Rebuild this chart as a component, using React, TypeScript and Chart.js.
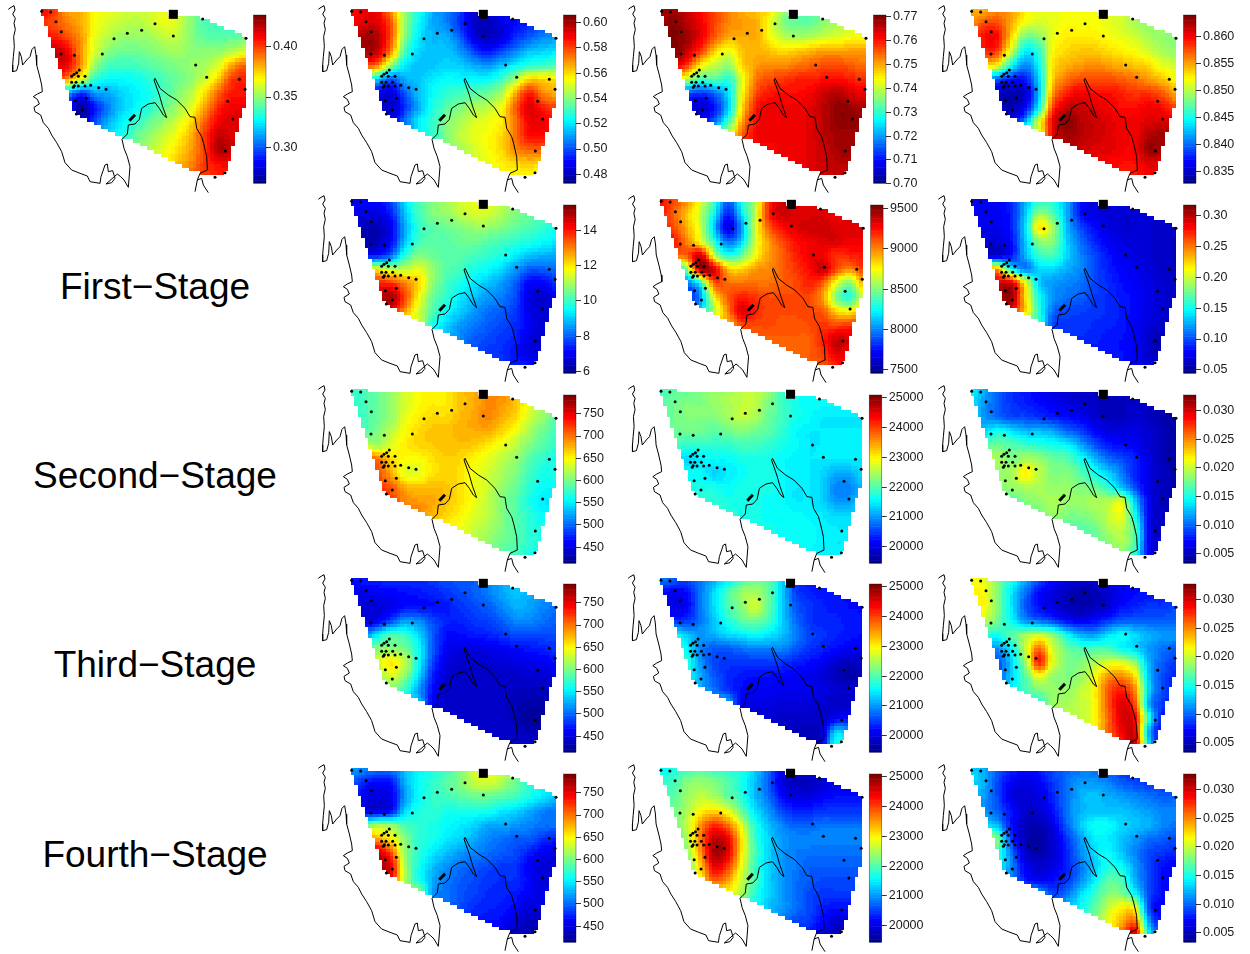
import React, { useEffect, useRef } from "react";
import { Chart, registerables } from "chart.js";

Chart.register(...registerables);

// Map units: 3 units = 1 screen pixel inside a panel.
const gridX = [120, 161, 203, 244, 285, 327, 368, 409, 451, 492, 533, 575, 616, 657, 699, 740];
const gridY = [30, 72, 113, 155, 197, 238, 280, 322, 363, 405, 447, 488, 530];

const coastX = [25, 30, 42, 45, 38, 46, 42, 46, 41, 43, 40, 38, 38, 50, 56, 58, 64, 68, 80, 90, 96, 104, 108, 110, 118, 125, 127, 112, 100, 112, 118, 102, 105, 122, 130, 145, 155, 170, 185, 195, 215, 240, 262, 270, 300, 303, 315, 322, 325, 338, 345, 335, 318, 352, 362, 372, 385, 390, 382, 372, 366, 382, 385, 405, 418, 425, 445, 465, 478, 490, 500, 488, 478, 462, 465, 480, 505, 530, 555, 570, 585, 590, 605, 612, 620, 622, 600, 592, 585, null, 592, 605, 610, 625];
const coastY = [28, 24, 17, 30, 42, 55, 70, 88, 110, 140, 170, 195, 215, 212, 190, 155, 170, 195, 180, 170, 148, 140, 165, 195, 225, 255, 275, 282, 290, 298, 312, 322, 335, 345, 368, 385, 405, 428, 455, 488, 510, 520, 528, 545, 550, 530, 495, 492, 515, 512, 535, 548, 552, 522, 530, 540, 562, 500, 470, 445, 418, 402, 375, 372, 358, 325, 312, 308, 325, 345, 353, 320, 285, 240, 235, 265, 285, 300, 325, 350, 352, 385, 410, 435, 470, 510, 520, 540, 575, null, 540, 535, 555, 578];

const lakeX = [388, 405];
const lakeY = [362, 344];

const stationX = [125, 152, 168, 184, 183, 223, 307, 342, 382, 425, 465, 520, 608, 738, 587, 620, 718, 735, 683, 698, 676, 675, 645, 318, 296, 272, 255, 248, 255, 235, 238, 230, 222, 215, 215, 228, 235, 223, 220, 226, 259, 247, 229];
const stationY = [34, 36, 65, 95, 162, 166, 162, 116, 100, 91, 71, 108, 57, 115, 195, 232, 238, 268, 304, 357, 453, 518, 532, 268, 263, 256, 258, 247, 229, 229, 210, 218, 223, 229, 247, 247, 258, 257, 262, 302, 295, 330, 342];

const cityX = [520];
const cityY = [43];

// Outline of the gridded domain.
const domainX = [122, 360, 505, 610, 738, 738, 706, 686, 665, 610, 228];
const domainY = [30, 36, 42, 54, 112, 295, 415, 500, 526, 526, 346];

// Field values, as a percentage of each colour bar's range.
const grid0 = [
  [88, 82, 72, 70, 62, 60, 58, 57, 58, 61, 58, 50, 44, 45, 45, 45],
  [82, 80, 75, 70, 62, 58, 56, 55, 57, 60, 58, 50, 45, 44, 44, 45],
  [86, 85, 80, 72, 60, 55, 52, 52, 53, 56, 56, 50, 47, 46, 47, 48],
  [92, 93, 88, 72, 58, 50, 48, 48, 50, 52, 53, 51, 51, 52, 56, 60],
  [90, 90, 87, 72, 52, 44, 43, 44, 46, 48, 50, 52, 54, 60, 72, 78],
  [80, 80, 72, 58, 42, 38, 38, 39, 42, 45, 48, 52, 58, 68, 82, 84],
  [30, 30, 30, 18, 28, 30, 34, 37, 40, 45, 50, 56, 66, 78, 85, 85],
  [15, 15, 15, 3, 15, 26, 33, 38, 42, 48, 53, 60, 72, 84, 88, 88],
  [15, 15, 15, 8, 20, 30, 37, 42, 47, 52, 58, 66, 78, 88, 90, 90],
  [25, 25, 25, 25, 30, 36, 40, 47, 52, 57, 62, 70, 82, 92, 90, 90],
  [40, 40, 40, 40, 40, 44, 46, 50, 55, 60, 65, 72, 82, 95, 92, 92],
  [50, 50, 50, 50, 50, 52, 54, 56, 58, 62, 68, 74, 82, 87, 87, 87],
  [56, 56, 56, 56, 56, 58, 60, 62, 64, 66, 70, 78, 82, 84, 84, 84],
];
const grid1 = [
  [87, 88, 88, 72, 52, 40, 30, 25, 18, 8, 8, 12, 14, 16, 20, 22],
  [87, 90, 90, 78, 52, 38, 30, 26, 17, 8, 5, 10, 14, 16, 20, 22],
  [90, 96, 94, 78, 50, 36, 31, 30, 22, 10, 6, 10, 17, 22, 26, 28],
  [88, 94, 92, 72, 44, 34, 32, 32, 28, 20, 15, 20, 26, 32, 34, 36],
  [78, 80, 74, 50, 36, 32, 32, 34, 33, 30, 28, 32, 38, 42, 44, 46],
  [50, 48, 34, 22, 30, 32, 36, 38, 38, 38, 38, 44, 54, 66, 66, 64],
  [12, 12, 12, 10, 22, 32, 38, 42, 44, 46, 48, 54, 70, 84, 74, 70],
  [8, 8, 8, 7, 18, 30, 40, 46, 50, 54, 56, 62, 78, 90, 84, 80],
  [10, 10, 10, 10, 24, 36, 42, 50, 54, 58, 60, 64, 76, 88, 88, 84],
  [24, 24, 24, 24, 24, 36, 42, 50, 56, 60, 62, 66, 76, 86, 86, 84],
  [44, 44, 44, 44, 44, 44, 44, 50, 54, 58, 62, 66, 74, 78, 78, 78],
  [54, 54, 54, 54, 54, 54, 54, 54, 54, 58, 60, 64, 66, 68, 66, 66],
  [56, 56, 56, 56, 56, 56, 56, 56, 56, 58, 60, 62, 62, 62, 62, 62],
];
const grid2 = [
  [95, 96, 92, 86, 80, 74, 70, 68, 64, 52, 45, 46, 50, 55, 60, 62],
  [96, 98, 94, 88, 80, 74, 72, 70, 60, 50, 48, 48, 52, 55, 58, 60],
  [98, 99, 96, 88, 78, 70, 70, 70, 62, 56, 54, 56, 58, 60, 62, 63],
  [96, 98, 92, 80, 66, 60, 68, 70, 68, 66, 68, 70, 72, 72, 72, 72],
  [94, 92, 80, 62, 56, 52, 66, 72, 74, 74, 76, 78, 80, 80, 78, 76],
  [70, 66, 54, 44, 46, 42, 60, 76, 80, 82, 84, 84, 86, 86, 84, 82],
  [24, 24, 22, 18, 24, 36, 62, 80, 85, 86, 86, 88, 92, 94, 90, 88],
  [12, 12, 10, 8, 16, 34, 66, 85, 88, 88, 88, 90, 94, 98, 96, 94],
  [14, 14, 14, 14, 24, 44, 72, 86, 88, 88, 88, 90, 94, 98, 98, 96],
  [40, 40, 40, 40, 50, 60, 78, 88, 88, 88, 88, 90, 94, 96, 96, 96],
  [70, 70, 70, 70, 72, 76, 84, 86, 87, 88, 88, 90, 92, 96, 96, 96],
  [86, 86, 86, 86, 86, 86, 86, 88, 88, 88, 88, 90, 92, 94, 94, 94],
  [88, 88, 88, 88, 88, 88, 88, 88, 88, 88, 88, 90, 92, 92, 92, 92],
];
const grid3 = [
  [70, 70, 74, 72, 64, 60, 60, 62, 62, 62, 60, 58, 54, 50, 50, 50],
  [72, 80, 80, 70, 60, 58, 60, 62, 62, 62, 60, 58, 54, 52, 52, 52],
  [76, 86, 86, 66, 48, 50, 60, 64, 64, 64, 62, 60, 58, 54, 52, 50],
  [72, 82, 80, 56, 36, 42, 62, 66, 68, 68, 66, 64, 62, 58, 54, 52],
  [66, 66, 60, 38, 26, 38, 64, 70, 72, 74, 72, 70, 68, 66, 60, 58],
  [40, 32, 22, 16, 15, 34, 66, 76, 80, 80, 80, 78, 76, 72, 68, 62],
  [14, 12, 8, 5, 8, 32, 72, 84, 88, 86, 86, 84, 82, 82, 78, 70],
  [12, 10, 7, 5, 12, 38, 80, 92, 92, 90, 88, 86, 86, 88, 86, 80],
  [14, 14, 14, 14, 28, 58, 88, 98, 94, 92, 90, 88, 88, 90, 90, 90],
  [60, 60, 60, 60, 60, 60, 88, 96, 94, 92, 90, 88, 88, 94, 96, 96],
  [80, 80, 80, 80, 80, 80, 90, 94, 92, 90, 90, 88, 88, 97, 95, 95],
  [88, 88, 88, 88, 88, 88, 88, 90, 90, 88, 87, 86, 86, 90, 90, 90],
  [88, 88, 88, 88, 88, 88, 88, 88, 88, 88, 87, 86, 86, 88, 88, 88],
];
const grid4 = [
  [12, 14, 14, 20, 35, 45, 50, 54, 58, 60, 60, 56, 52, 48, 46, 45],
  [10, 10, 10, 16, 32, 44, 50, 52, 56, 58, 58, 54, 50, 48, 46, 44],
  [8, 5, 5, 12, 30, 42, 46, 48, 50, 52, 52, 50, 47, 45, 42, 40],
  [8, 6, 6, 14, 32, 44, 46, 46, 48, 48, 46, 44, 42, 40, 38, 36],
  [18, 15, 15, 24, 42, 50, 48, 46, 46, 44, 42, 40, 36, 32, 30, 30],
  [60, 62, 62, 56, 56, 60, 52, 46, 44, 40, 38, 34, 28, 22, 22, 24],
  [82, 84, 84, 82, 74, 66, 52, 44, 40, 36, 32, 28, 22, 13, 13, 18],
  [90, 90, 92, 95, 80, 62, 48, 42, 36, 32, 28, 25, 20, 10, 8, 12],
  [88, 88, 90, 86, 72, 58, 46, 38, 33, 28, 24, 22, 18, 11, 8, 10],
  [55, 55, 55, 55, 55, 55, 40, 34, 28, 25, 22, 20, 17, 12, 8, 8],
  [36, 36, 36, 36, 36, 36, 34, 30, 26, 22, 20, 18, 16, 10, 8, 8],
  [26, 26, 26, 26, 26, 26, 26, 26, 24, 20, 18, 17, 14, 10, 8, 8],
  [20, 20, 20, 20, 20, 20, 20, 20, 20, 20, 18, 18, 16, 15, 13, 12],
];
const grid5 = [
  [87, 80, 74, 60, 44, 22, 40, 55, 82, 92, 90, 90, 88, 88, 88, 88],
  [85, 78, 68, 56, 38, 16, 35, 56, 84, 92, 90, 90, 90, 88, 88, 88],
  [85, 80, 70, 58, 32, 10, 28, 58, 78, 86, 90, 92, 92, 90, 90, 90],
  [88, 86, 74, 62, 42, 24, 34, 58, 72, 80, 86, 88, 90, 90, 88, 88],
  [78, 76, 78, 92, 58, 42, 48, 62, 72, 78, 84, 88, 88, 82, 84, 85],
  [45, 40, 50, 95, 90, 68, 66, 72, 74, 78, 82, 86, 92, 80, 74, 82],
  [38, 25, 25, 40, 78, 76, 76, 76, 76, 78, 80, 84, 78, 60, 50, 72],
  [18, 18, 15, 28, 62, 78, 84, 82, 80, 80, 80, 80, 72, 50, 42, 60],
  [30, 30, 26, 36, 55, 74, 90, 84, 80, 80, 80, 80, 78, 66, 62, 75],
  [70, 70, 70, 70, 70, 70, 80, 80, 80, 79, 79, 80, 82, 80, 82, 82],
  [78, 78, 78, 78, 78, 78, 78, 78, 78, 78, 78, 78, 84, 92, 90, 90],
  [78, 78, 78, 78, 78, 78, 78, 78, 78, 78, 78, 78, 82, 90, 88, 88],
  [78, 78, 78, 78, 78, 78, 78, 78, 78, 78, 78, 78, 78, 84, 86, 86],
];
const grid6 = [
  [12, 12, 12, 17, 30, 40, 40, 30, 14, 10, 9, 9, 9, 9, 8, 8],
  [12, 12, 12, 16, 32, 52, 46, 30, 15, 10, 9, 8, 8, 8, 8, 8],
  [11, 11, 11, 16, 34, 64, 54, 32, 20, 14, 10, 8, 8, 8, 7, 7],
  [10, 10, 9, 14, 32, 50, 50, 34, 24, 17, 12, 10, 8, 8, 7, 6],
  [11, 10, 10, 15, 30, 42, 44, 34, 26, 20, 15, 11, 10, 8, 7, 6],
  [70, 70, 70, 40, 26, 34, 34, 30, 26, 20, 16, 13, 11, 9, 7, 6],
  [88, 88, 90, 90, 62, 34, 28, 26, 24, 20, 17, 14, 12, 10, 8, 7],
  [92, 92, 94, 96, 66, 40, 28, 24, 22, 19, 17, 15, 13, 10, 8, 7],
  [80, 80, 82, 84, 66, 42, 24, 20, 19, 18, 17, 15, 13, 10, 8, 7],
  [40, 40, 40, 40, 40, 40, 20, 18, 18, 17, 16, 15, 12, 9, 7, 7],
  [20, 20, 20, 20, 20, 20, 18, 17, 17, 16, 15, 14, 12, 7, 5, 5],
  [16, 16, 16, 16, 16, 16, 16, 16, 16, 15, 15, 14, 12, 7, 6, 6],
  [15, 15, 15, 15, 15, 15, 15, 15, 15, 15, 14, 14, 12, 9, 9, 9],
];
const grid7 = [
  [42, 44, 48, 52, 58, 62, 64, 64, 68, 70, 74, 74, 70, 62, 56, 52],
  [42, 44, 48, 52, 58, 62, 64, 64, 68, 70, 74, 72, 68, 60, 54, 50],
  [42, 44, 48, 52, 60, 64, 66, 66, 69, 71, 74, 70, 66, 58, 52, 46],
  [44, 46, 50, 56, 62, 66, 68, 68, 70, 70, 70, 66, 60, 54, 48, 44],
  [70, 60, 54, 60, 64, 66, 67, 68, 68, 67, 64, 60, 56, 50, 46, 42],
  [85, 82, 76, 66, 62, 62, 65, 67, 66, 63, 60, 56, 52, 46, 42, 40],
  [85, 84, 80, 70, 60, 60, 65, 66, 65, 61, 58, 54, 50, 44, 40, 40],
  [84, 86, 84, 78, 70, 68, 69, 68, 65, 61, 58, 52, 48, 42, 38, 38],
  [84, 84, 86, 80, 74, 72, 71, 68, 65, 61, 56, 50, 46, 40, 36, 36],
  [74, 74, 74, 74, 74, 74, 69, 66, 63, 59, 56, 50, 46, 42, 38, 38],
  [66, 66, 66, 66, 66, 66, 66, 63, 61, 57, 54, 50, 46, 42, 40, 40],
  [60, 60, 60, 60, 60, 60, 60, 60, 57, 55, 52, 48, 46, 42, 40, 40],
  [56, 56, 56, 56, 56, 56, 56, 56, 52, 50, 48, 46, 44, 40, 40, 40],
];
const grid8 = [
  [44, 46, 48, 50, 52, 54, 56, 56, 52, 44, 40, 38, 38, 38, 38, 38],
  [46, 48, 50, 50, 52, 54, 56, 56, 50, 44, 40, 38, 38, 38, 38, 38],
  [46, 48, 50, 50, 50, 53, 56, 54, 48, 44, 40, 38, 36, 36, 36, 36],
  [48, 48, 48, 48, 46, 48, 50, 48, 46, 42, 38, 36, 36, 36, 36, 36],
  [46, 44, 42, 42, 42, 42, 44, 44, 42, 40, 38, 36, 36, 36, 36, 36],
  [40, 36, 34, 36, 38, 38, 40, 40, 40, 38, 37, 36, 36, 36, 36, 36],
  [40, 38, 38, 38, 34, 36, 38, 40, 40, 38, 37, 36, 34, 30, 30, 34],
  [42, 42, 40, 40, 40, 38, 40, 40, 40, 38, 36, 36, 34, 26, 26, 32],
  [42, 42, 42, 42, 42, 40, 40, 40, 38, 38, 36, 36, 34, 28, 28, 34],
  [42, 42, 42, 42, 42, 42, 40, 40, 38, 38, 38, 37, 36, 34, 34, 34],
  [42, 42, 42, 42, 42, 42, 42, 40, 40, 38, 38, 38, 37, 36, 36, 36],
  [40, 40, 40, 40, 40, 40, 40, 40, 40, 38, 38, 38, 37, 36, 36, 36],
  [38, 38, 38, 38, 38, 38, 38, 38, 38, 38, 38, 37, 36, 36, 36, 36],
];
const grid9 = [
  [38, 30, 22, 17, 15, 12, 10, 8, 7, 6, 6, 6, 7, 6, 5, 4],
  [36, 28, 22, 18, 16, 14, 12, 10, 8, 7, 5, 6, 7, 6, 5, 3],
  [36, 28, 24, 20, 20, 18, 16, 14, 12, 8, 6, 6, 8, 6, 4, 3],
  [38, 34, 40, 36, 32, 32, 30, 24, 20, 14, 10, 10, 10, 8, 5, 3],
  [42, 46, 48, 46, 44, 42, 40, 38, 30, 22, 16, 14, 12, 8, 5, 3],
  [50, 56, 54, 50, 54, 52, 48, 46, 40, 32, 24, 20, 16, 10, 5, 4],
  [50, 52, 52, 54, 63, 56, 50, 50, 46, 40, 34, 25, 16, 10, 6, 4],
  [46, 46, 50, 52, 54, 54, 52, 52, 50, 48, 42, 32, 20, 10, 6, 4],
  [44, 44, 46, 46, 50, 52, 54, 52, 52, 54, 54, 58, 32, 12, 6, 4],
  [48, 48, 48, 48, 48, 48, 52, 50, 50, 52, 56, 60, 38, 12, 6, 4],
  [46, 46, 46, 46, 46, 46, 46, 46, 46, 48, 54, 56, 44, 12, 7, 6],
  [46, 46, 46, 46, 46, 46, 46, 46, 46, 48, 50, 54, 44, 12, 8, 6],
  [46, 46, 46, 46, 46, 46, 46, 46, 46, 48, 50, 50, 40, 12, 8, 6],
];
const grid10 = [
  [15, 15, 16, 17, 17, 17, 18, 20, 21, 22, 25, 29, 33, 30, 28, 27],
  [10, 11, 12, 13, 14, 15, 16, 18, 20, 22, 25, 29, 32, 30, 28, 26],
  [9, 9, 9, 11, 14, 14, 14, 15, 18, 20, 22, 26, 30, 29, 26, 24],
  [9, 10, 12, 20, 28, 26, 20, 16, 16, 18, 19, 22, 26, 26, 24, 22],
  [20, 24, 36, 44, 42, 34, 22, 14, 14, 15, 16, 18, 20, 20, 20, 20],
  [50, 50, 50, 50, 48, 38, 22, 12, 10, 10, 11, 12, 14, 15, 16, 18],
  [56, 56, 58, 64, 56, 38, 20, 10, 8, 7, 8, 9, 10, 11, 12, 14],
  [48, 48, 50, 58, 50, 34, 16, 8, 7, 7, 7, 7, 7, 8, 8, 10],
  [40, 40, 44, 48, 42, 28, 14, 7, 7, 7, 7, 7, 6, 6, 6, 8],
  [30, 30, 30, 30, 30, 30, 12, 7, 7, 7, 7, 7, 5, 4, 4, 5],
  [12, 12, 12, 12, 12, 12, 10, 7, 7, 7, 7, 7, 5, 2, 2, 3],
  [8, 8, 8, 8, 8, 8, 8, 8, 8, 7, 7, 7, 7, 5, 5, 6],
  [8, 8, 8, 8, 8, 8, 8, 8, 8, 8, 8, 8, 8, 8, 8, 8],
];
const grid11 = [
  [25, 22, 20, 24, 30, 36, 44, 48, 46, 34, 18, 15, 14, 14, 14, 14],
  [15, 12, 14, 24, 34, 44, 52, 54, 48, 34, 20, 16, 15, 14, 14, 14],
  [12, 10, 12, 24, 34, 44, 50, 57, 48, 34, 22, 18, 16, 15, 14, 14],
  [20, 18, 18, 24, 32, 40, 46, 48, 44, 34, 24, 18, 16, 16, 15, 14],
  [42, 40, 32, 28, 30, 34, 36, 38, 36, 32, 26, 20, 18, 16, 15, 14],
  [46, 46, 38, 26, 22, 22, 24, 26, 26, 26, 22, 18, 16, 14, 12, 12],
  [44, 44, 42, 28, 20, 18, 18, 18, 18, 18, 16, 14, 12, 8, 6, 8],
  [44, 44, 40, 30, 22, 17, 15, 14, 14, 13, 12, 11, 9, 6, 4, 6],
  [40, 40, 38, 30, 24, 18, 14, 12, 12, 11, 11, 11, 10, 8, 8, 8],
  [30, 30, 30, 30, 30, 30, 12, 10, 10, 9, 9, 9, 8, 7, 7, 7],
  [12, 12, 12, 12, 12, 12, 10, 8, 8, 7, 7, 7, 7, 12, 14, 14],
  [8, 8, 8, 8, 8, 8, 8, 8, 8, 6, 6, 5, 8, 32, 30, 30],
  [6, 6, 6, 6, 6, 6, 6, 6, 6, 6, 4, 4, 10, 40, 36, 36],
];
const grid12 = [
  [62, 60, 50, 40, 30, 20, 14, 10, 8, 8, 10, 12, 12, 12, 12, 12],
  [62, 62, 50, 36, 24, 14, 10, 6, 4, 5, 8, 12, 14, 14, 14, 14],
  [60, 62, 50, 36, 22, 14, 10, 6, 4, 6, 8, 14, 16, 18, 18, 20],
  [56, 56, 48, 38, 28, 24, 20, 14, 12, 14, 18, 22, 22, 22, 22, 22],
  [46, 42, 40, 46, 52, 56, 50, 38, 30, 28, 34, 38, 34, 30, 28, 28],
  [30, 26, 28, 38, 56, 76, 58, 48, 44, 44, 44, 38, 34, 28, 24, 22],
  [22, 20, 20, 34, 52, 84, 60, 50, 50, 54, 58, 58, 50, 30, 22, 18],
  [20, 20, 20, 34, 46, 60, 52, 50, 52, 60, 72, 74, 64, 32, 20, 16],
  [24, 24, 26, 36, 44, 50, 52, 52, 56, 62, 78, 84, 72, 34, 20, 14],
  [42, 42, 42, 42, 42, 42, 52, 54, 56, 62, 78, 90, 78, 30, 18, 14],
  [50, 50, 50, 50, 50, 50, 52, 56, 56, 62, 76, 90, 86, 40, 14, 12],
  [58, 58, 58, 58, 58, 58, 58, 58, 58, 62, 76, 88, 88, 30, 12, 10],
  [60, 60, 60, 60, 60, 60, 60, 60, 60, 62, 72, 84, 92, 36, 12, 10],
];
const grid13 = [
  [28, 26, 24, 24, 32, 38, 40, 44, 50, 58, 62, 58, 50, 44, 40, 38],
  [22, 16, 13, 15, 30, 38, 42, 46, 50, 56, 58, 54, 48, 42, 38, 36],
  [20, 12, 10, 12, 28, 38, 42, 44, 46, 48, 48, 46, 44, 40, 36, 32],
  [20, 12, 10, 14, 34, 40, 42, 40, 40, 40, 40, 36, 34, 30, 26, 24],
  [46, 44, 52, 50, 44, 42, 40, 38, 36, 34, 30, 30, 28, 26, 24, 24],
  [82, 80, 70, 62, 50, 42, 40, 36, 34, 30, 26, 24, 22, 22, 18, 16],
  [90, 90, 92, 78, 52, 42, 36, 32, 28, 26, 24, 22, 20, 16, 12, 10],
  [88, 88, 96, 88, 54, 40, 32, 27, 24, 22, 20, 18, 18, 12, 9, 8],
  [88, 88, 90, 84, 54, 40, 30, 25, 22, 20, 18, 17, 17, 13, 9, 9],
  [50, 50, 50, 50, 50, 50, 28, 24, 21, 19, 17, 16, 15, 12, 10, 10],
  [26, 26, 26, 26, 26, 26, 25, 23, 20, 17, 16, 15, 13, 9, 9, 9],
  [16, 16, 16, 16, 16, 16, 16, 16, 16, 15, 14, 13, 9, 6, 6, 6],
  [10, 10, 10, 10, 10, 10, 10, 10, 10, 10, 10, 9, 7, 4, 4, 4],
];
const grid14 = [
  [38, 40, 44, 46, 44, 42, 40, 34, 24, 12, 8, 8, 8, 8, 8, 8],
  [42, 44, 50, 52, 50, 46, 40, 32, 22, 10, 6, 6, 8, 10, 10, 10],
  [42, 46, 52, 56, 54, 48, 42, 32, 24, 14, 10, 10, 12, 14, 14, 14],
  [42, 48, 54, 62, 66, 60, 48, 36, 28, 20, 16, 16, 18, 18, 18, 18],
  [42, 48, 56, 72, 82, 76, 60, 42, 32, 26, 22, 22, 24, 24, 24, 24],
  [38, 40, 54, 74, 92, 88, 66, 44, 34, 28, 26, 26, 26, 26, 26, 26],
  [36, 36, 50, 72, 95, 90, 66, 46, 34, 28, 25, 24, 24, 24, 24, 24],
  [40, 40, 48, 66, 88, 82, 62, 44, 34, 28, 25, 22, 22, 22, 22, 22],
  [40, 40, 48, 62, 78, 72, 58, 46, 34, 28, 24, 22, 20, 20, 20, 20],
  [56, 56, 56, 56, 56, 60, 54, 42, 34, 28, 24, 20, 18, 18, 18, 18],
  [40, 40, 40, 40, 40, 40, 40, 38, 32, 28, 24, 20, 16, 14, 14, 14],
  [30, 30, 30, 30, 30, 30, 30, 30, 28, 24, 20, 18, 13, 8, 8, 8],
  [20, 20, 20, 20, 20, 20, 20, 20, 20, 20, 16, 14, 10, 5, 5, 5],
];
const grid15 = [
  [34, 30, 22, 16, 14, 15, 20, 22, 24, 24, 22, 18, 16, 15, 15, 15],
  [34, 30, 20, 12, 10, 12, 18, 24, 28, 28, 26, 22, 20, 18, 18, 18],
  [32, 28, 20, 10, 8, 10, 16, 24, 30, 32, 30, 28, 26, 24, 22, 22],
  [32, 28, 22, 14, 8, 8, 14, 24, 30, 32, 32, 32, 30, 28, 26, 26],
  [40, 36, 30, 14, 6, 5, 10, 22, 32, 38, 38, 34, 32, 30, 26, 24],
  [58, 60, 48, 18, 5, 3, 8, 18, 28, 36, 36, 32, 28, 24, 22, 20],
  [56, 54, 44, 24, 8, 4, 8, 16, 26, 34, 38, 32, 26, 20, 18, 16],
  [50, 50, 40, 26, 12, 8, 10, 16, 24, 32, 40, 38, 28, 20, 14, 12],
  [45, 45, 35, 26, 16, 12, 14, 18, 26, 36, 46, 44, 30, 20, 14, 10],
  [30, 30, 30, 30, 30, 30, 20, 24, 34, 42, 50, 50, 38, 20, 14, 10],
  [28, 28, 28, 28, 28, 28, 28, 32, 38, 46, 56, 64, 60, 20, 12, 10],
  [36, 36, 36, 36, 36, 36, 36, 38, 44, 50, 60, 70, 76, 28, 14, 12],
  [44, 44, 44, 44, 44, 44, 44, 44, 48, 54, 62, 78, 92, 38, 20, 15],
];

const ticksA = [0.3, 0.35, 0.4];
const ticksB = [0.48, 0.5, 0.52, 0.54, 0.56, 0.58, 0.6];
const ticksC = [0.7, 0.71, 0.72, 0.73, 0.74, 0.75, 0.76, 0.77];
const ticksD = [0.835, 0.84, 0.845, 0.85, 0.855, 0.86];
const ticksE = [6, 8, 10, 12, 14];
const ticksF = [7500, 8000, 8500, 9000, 9500];
const ticksG = [0.05, 0.1, 0.15, 0.2, 0.25, 0.3];
const ticksH = [450, 500, 550, 600, 650, 700, 750];
const ticksI = [20000, 21000, 22000, 23000, 24000, 25000];
const ticksJ = [0.005, 0.01, 0.015, 0.02, 0.025, 0.03];

const stageLabels = ["First\u2212Stage", "Second\u2212Stage", "Third\u2212Stage", "Fourth\u2212Stage"];
const stageCentres = [287, 476, 665, 855];

const panels = [
  { col: 0, row: 0, grid: grid0, lo: 0.2642, hi: 0.4299, ticks: ticksA, dec: 2, xs: 1 },
  { col: 1, row: 0, grid: grid1, lo: 0.4723, hi: 0.6053, ticks: ticksB, dec: 2, xs: 1 },
  { col: 2, row: 0, grid: grid2, lo: 0.6999, hi: 0.7704, ticks: ticksC, dec: 2, xs: 1 },
  { col: 3, row: 0, grid: grid3, lo: 0.8326, hi: 0.8639, ticks: ticksD, dec: 3, xs: 1 },
  { col: 1, row: 1, grid: grid4, lo: 5.87, hi: 15.36, ticks: ticksE, dec: 0, xs: 1 },
  { col: 2, row: 1, grid: grid5, lo: 7450, hi: 9528, ticks: ticksF, dec: 0, xs: 0.989 },
  { col: 3, row: 1, grid: grid6, lo: 0.0435, hi: 0.315, ticks: ticksG, dec: 2, xs: 1 },
  { col: 1, row: 2, grid: grid7, lo: 412, hi: 790, ticks: ticksH, dec: 0, xs: 1 },
  { col: 2, row: 2, grid: grid8, lo: 19419, hi: 25057, ticks: ticksI, dec: 0, xs: 0.984 },
  { col: 3, row: 2, grid: grid9, lo: 0.0032, hi: 0.0326, ticks: ticksJ, dec: 3, xs: 1 },
  { col: 1, row: 3, grid: grid10, lo: 412, hi: 790, ticks: ticksH, dec: 0, xs: 1 },
  { col: 2, row: 3, grid: grid11, lo: 19419, hi: 25057, ticks: ticksI, dec: 0, xs: 0.984 },
  { col: 3, row: 3, grid: grid12, lo: 0.0032, hi: 0.0326, ticks: ticksJ, dec: 3, xs: 1 },
  { col: 1, row: 4, grid: grid13, lo: 412, hi: 790, ticks: ticksH, dec: 0, xs: 1 },
  { col: 2, row: 4, grid: grid14, lo: 19419, hi: 25057, ticks: ticksI, dec: 0, xs: 0.984 },
  { col: 3, row: 4, grid: grid15, lo: 0.0032, hi: 0.0326, ticks: ticksJ, dec: 3, xs: 1 },
];

const CANVAS_W = 310;
const CANVAS_H = 196;
const BAR_TOP = 15;
const BAR_BOTTOM = 183;
const BAR_RIGHT = 266;
const BAR_W = 12.5;
const CELL = 10.6;
const TICK_SHIFT = 1;

function timColor(t: number): string {
  const q = Math.min(63, Math.max(0, Math.floor(t * 64))) / 63;
  const stops = [
    [0, 0, 0, 143],
    [0.125, 0, 0, 255],
    [0.375, 0, 255, 255],
    [0.625, 255, 255, 0],
    [0.875, 255, 0, 0],
    [1, 128, 0, 0],
  ];
  for (let i = 1; i < stops.length; i++) {
    if (q <= stops[i][0]) {
      const a = stops[i - 1];
      const b = stops[i];
      const f = (q - a[0]) / (b[0] - a[0]);
      const c = [1, 2, 3].map((k) => Math.round(a[k] + (b[k] - a[k]) * f));
      return `rgb(${c[0]},${c[1]},${c[2]})`;
    }
  }
  return "rgb(128,0,0)";
}

function inDomain(px: number, py: number): boolean {
  let inside = false;
  for (let i = 0, j = domainX.length - 1; i < domainX.length; j = i++) {
    const crosses = domainY[i] > py !== domainY[j] > py;
    if (crosses && px < ((domainX[j] - domainX[i]) * (py - domainY[i])) / (domainY[j] - domainY[i]) + domainX[i]) {
      inside = !inside;
    }
  }
  return inside;
}

// Display smoothing only, as with an image drawn with smooth shading; the grid values stay as read.
function cr(a: number, b: number, c: number, d: number, f: number): number {
  return b + 0.5 * f * (c - a + f * (2 * a - 5 * b + 4 * c - d + f * (3 * (b - c) + d - a)));
}
function locate(axis: number[], v: number): [number, number] {
  let i = 0;
  while (i < axis.length - 2 && v > axis[i + 1]) i++;
  return [i, Math.max(0, Math.min(1, (v - axis[i]) / (axis[i + 1] - axis[i])))];
}
function sample(grid: number[][], px: number, py: number): number {
  const [ci, fx] = locate(gridX, px);
  const [ri, fy] = locate(gridY, py);
  const rowAt = (r: number) => {
    const row = grid[Math.max(0, Math.min(gridY.length - 1, r))];
    const at = (c: number) => row[Math.max(0, Math.min(gridX.length - 1, c))];
    return cr(at(ci - 1), at(ci), at(ci + 1), at(ci + 2), fx);
  };
  return cr(rowAt(ri - 1), rowAt(ri), rowAt(ri + 1), rowAt(ri + 2), fy);
}

const fieldPlugin = {
  id: "fieldLayer",
  beforeDatasetsDraw(chart: any, _args: any, opts: any) {
    const { ctx, scales, chartArea } = chart;
    const { x, y } = scales;
    ctx.save();
    for (let v = 122; v < 745; v += CELL) {
      for (let w = 26; w < 532; w += CELL) {
        const mx = v + CELL / 2;
        const my = w + CELL / 2;
        if (!inDomain(mx, my)) continue;
        const x0 = Math.round(x.getPixelForValue(v));
        const x1 = Math.round(x.getPixelForValue(v + CELL));
        const y0 = Math.round(y.getPixelForValue(w));
        const y1 = Math.round(y.getPixelForValue(w + CELL));
        ctx.fillStyle = timColor(sample(opts.grid, mx, my) / 100);
        ctx.fillRect(x0, y0, x1 - x0, y1 - y0);
      }
    }
    const top = y.getPixelForValue(BAR_TOP * 3);
    const bottom = y.getPixelForValue(BAR_BOTTOM * 3);
    const left = chartArea.right - BAR_W;
    const h = (bottom - top) / 64;
    for (let i = 0; i < 64; i++) {
      ctx.fillStyle = timColor((i + 0.5) / 64);
      ctx.fillRect(left, bottom - (i + 1) * h, BAR_W, h + 0.5);
    }
    ctx.strokeStyle = "rgba(0,0,0,0.6)";
    ctx.lineWidth = 0.6;
    ctx.strokeRect(left, top, BAR_W, bottom - top);
    ctx.restore();
  },
};

function toPoints(xs: (number | null)[], ys: (number | null)[]) {
  return xs.map((v, i) => ({ x: v as number, y: ys[i] as number }));
}

function Panel({ p }: { p: (typeof panels)[number] }) {
  const ref = useRef<HTMLCanvasElement | null>(null);
  useEffect(() => {
    const right = BAR_RIGHT * p.xs;
    const perPx = (p.hi - p.lo) / (BAR_BOTTOM - BAR_TOP);
    const chart = new Chart(ref.current as HTMLCanvasElement, {
      type: "scatter",
      data: {
        datasets: [
          { data: toPoints(coastX, coastY), showLine: true, spanGaps: false, pointRadius: 0, borderColor: "#000", borderWidth: 1 },
          { data: toPoints(lakeX, lakeY), showLine: true, pointRadius: 0, borderColor: "#000", borderWidth: 3 },
          { data: toPoints(stationX, stationY), pointRadius: 1.5, borderWidth: 0, backgroundColor: "#000" },
          { data: toPoints(cityX, cityY), pointStyle: "rect", pointRadius: 6.4, borderWidth: 0, backgroundColor: "#000" },
        ],
      } as any,
      options: {
        animation: false,
        responsive: false,
        devicePixelRatio: 1,
        events: [],
        layout: { autoPadding: false, padding: 0 },
        scales: {
          x: { type: "linear", display: false, min: 0, max: BAR_RIGHT * 3 },
          y: { type: "linear", display: false, reverse: true, min: 0, max: CANVAS_H * 3 },
          y2: {
            type: "linear",
            position: "right",
            min: p.lo - (CANVAS_H - BAR_BOTTOM - TICK_SHIFT) * perPx,
            max: p.hi + (BAR_TOP + TICK_SHIFT) * perPx,
            afterBuildTicks: (axis: any) => {
              axis.ticks = p.ticks.map((value) => ({ value }));
            },
            // The axis must run the full canvas height so the colour bar's range lands where it is meant to.
            afterFit: (axis: any) => {
              axis.width = CANVAS_W - right;
              axis.paddingTop = 0;
              axis.paddingBottom = 0;
              axis._margins.top = 0;
              axis._margins.bottom = 0;
              axis.height = axis.maxHeight;
            },
            border: { display: false },
            grid: { drawOnChartArea: false, drawTicks: true, tickLength: 5, tickColor: "#333", tickWidth: 1 },
            ticks: {
              autoSkip: false,
              padding: 2,
              color: "#1a1a1a",
              font: { family: "'Liberation Sans'", size: 12.5 },
              callback: (v: any) => Number(v).toFixed(p.dec),
            },
          },
        },
        plugins: {
          legend: { display: false },
          tooltip: { enabled: false },
          fieldLayer: { grid: p.grid },
        },
      } as any,
      plugins: [fieldPlugin] as any,
    });
    return () => chart.destroy();
  }, [p]);
  return (
    <canvas
      ref={ref}
      width={CANVAS_W}
      height={CANVAS_H}
      style={{ position: "absolute", left: p.col * 310, top: p.row * 189.75, width: CANVAS_W, height: CANVAS_H }}
    />
  );
}

export default function App() {
  return (
    <div style={{ position: "absolute", left: 0, top: 0, width: 1250, height: 954, overflow: "hidden", background: "#fff" }}>
      {panels.map((p, i) => (
        <Panel key={i} p={p} />
      ))}
      {stageLabels.map((t, i) => (
        <div
          key={t}
          style={{
            position: "absolute",
            left: 0,
            width: 310,
            top: stageCentres[i] - 25,
            height: 50,
            lineHeight: "50px",
            textAlign: "center",
            fontFamily: "'Liberation Sans', sans-serif",
            fontSize: 37,
            color: "#000",
          }}
        >
          {t}
        </div>
      ))}
    </div>
  );
}
